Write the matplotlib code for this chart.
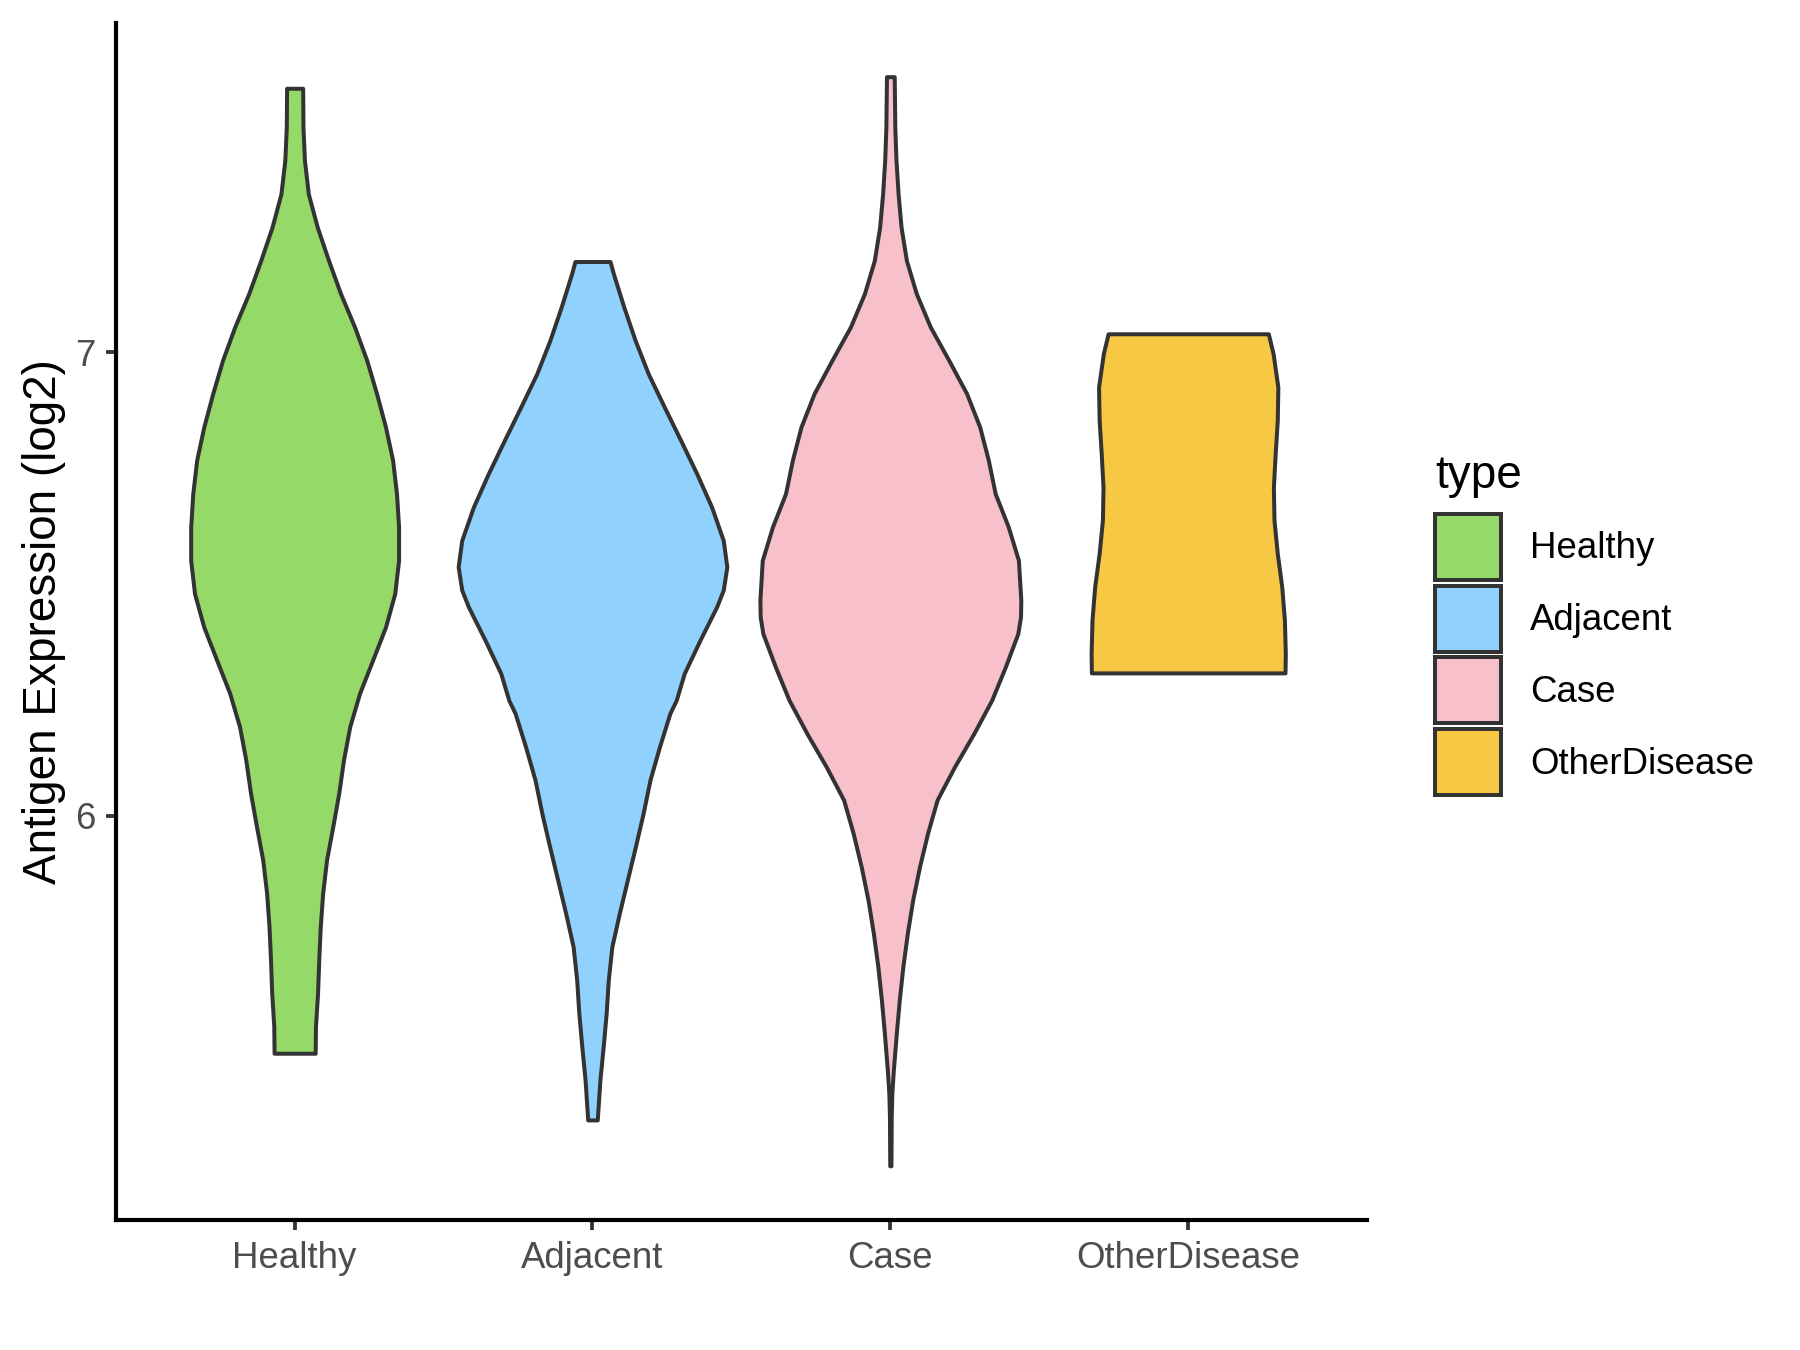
import matplotlib
matplotlib.use("Agg")
from matplotlib import pyplot as plt
from matplotlib.patches import Patch
import numpy as np

plt.rcParams["font.family"] = ["Liberation Sans", "DejaVu Sans"]

groups = ["Healthy", "Adjacent", "Case", "OtherDisease"]
colors = ["#95DA69", "#91D1FD", "#F8C0CB", "#F6C843"]
edge = "#333333"

# violin outlines: expression level and half width (x units)
healthy_y = [7.570, 7.486, 7.414, 7.342, 7.270, 7.198, 7.127, 7.055, 6.983, 6.911,
             6.839, 6.767, 6.695, 6.623, 6.551, 6.479, 6.407, 6.336, 6.264, 6.192,
             6.120, 6.048, 5.976, 5.904, 5.832, 5.760, 5.689, 5.617, 5.545, 5.487]
healthy_w = [0.027, 0.028, 0.033, 0.046, 0.076, 0.114, 0.154, 0.201, 0.242, 0.275,
             0.305, 0.329, 0.342, 0.349, 0.349, 0.336, 0.305, 0.262, 0.218, 0.185,
             0.164, 0.148, 0.128, 0.107, 0.094, 0.086, 0.081, 0.077, 0.070, 0.069]

adjacent_y = [7.196, 7.170, 7.098, 7.026, 6.954, 6.882, 6.810, 6.738, 6.666, 6.594,
              6.537, 6.487, 6.451, 6.379, 6.307, 6.249, 6.221, 6.149, 6.077, 6.005,
              5.933, 5.861, 5.789, 5.717, 5.645, 5.574, 5.502, 5.430, 5.343]
adjacent_w = [0.059, 0.070, 0.105, 0.143, 0.187, 0.241, 0.296, 0.350, 0.400, 0.439,
              0.451, 0.439, 0.417, 0.361, 0.308, 0.281, 0.260, 0.225, 0.193, 0.170,
              0.144, 0.117, 0.090, 0.065, 0.053, 0.046, 0.036, 0.025, 0.016]

case_y = [7.595, 7.486, 7.414, 7.342, 7.270, 7.198, 7.127, 7.055, 6.983, 6.911,
          6.839, 6.767, 6.695, 6.623, 6.551, 6.465, 6.429, 6.393, 6.321, 6.249,
          6.177, 6.105, 6.034, 5.962, 5.890, 5.818, 5.746, 5.674, 5.602, 5.530,
          5.450, 5.400, 5.350, 5.244]
case_w = [0.013, 0.015, 0.019, 0.026, 0.036, 0.054, 0.087, 0.134, 0.196, 0.256,
          0.300, 0.329, 0.352, 0.396, 0.430, 0.438, 0.437, 0.428, 0.386, 0.340,
          0.280, 0.215, 0.157, 0.125, 0.098, 0.075, 0.057, 0.042, 0.030, 0.020,
          0.010, 0.005, 0.003, 0.002]

other_y = [7.040, 6.997, 6.925, 6.853, 6.781, 6.709, 6.638, 6.566, 6.494, 6.422,
           6.350, 6.308]
other_w = [0.269, 0.285, 0.301, 0.299, 0.292, 0.286, 0.288, 0.299, 0.314, 0.323,
           0.326, 0.325]

profiles = [(healthy_y, healthy_w), (adjacent_y, adjacent_w),
            (case_y, case_w), (other_y, other_w)]

fig = plt.figure(figsize=(6, 4.5), dpi=300)
ax = fig.add_axes([0.0644, 0.0963, 0.7594 - 0.0644, 0.983 - 0.0963])

for i, (ys, ws) in enumerate(profiles):
    pos = i + 1
    ys = np.array(ys)
    ws = np.array(ws)
    ax.fill_betweenx(ys, pos - ws, pos + ws, facecolor=colors[i],
                     edgecolor=edge, linewidth=0.96, joinstyle="round", zorder=2)

ax.set_xlim(0.4, 4.6)
ax.set_ylim(5.127, 7.711)
ax.set_xticks(range(1, 5))
ax.set_xticklabels(groups)
ax.set_yticks([6, 7])
ax.set_yticklabels(["6", "7"])

for side in ["top", "right"]:
    ax.spines[side].set_visible(False)
for side in ["left", "bottom"]:
    ax.spines[side].set_color("black")
    ax.spines[side].set_linewidth(1.0)

ax.tick_params(axis="both", length=2.4, width=0.9, color=edge,
               labelsize=8.8, labelcolor="#4D4D4D", pad=2.6)
ax.set_ylabel("Antigen Expression (log2)", fontsize=11, color="black", labelpad=2.0)

handles = [Patch(facecolor=c, edgecolor=edge, linewidth=0.96) for c in colors]
leg = ax.legend(handles, groups, title="type", loc="upper left",
                bbox_to_anchor=(1435 / 1800, 1 - 454 / 1350),
                bbox_transform=fig.transFigure, frameon=False,
                fontsize=8.8, title_fontsize=11, handlelength=1.8,
                handleheight=2.39, labelspacing=0.16, handletextpad=0.8,
                borderpad=0, borderaxespad=0, alignment="left")
# gap between the legend title and the first key
leg._legend_box.sep = 3.8

fig.savefig("out.png", dpi=300, facecolor="white")
